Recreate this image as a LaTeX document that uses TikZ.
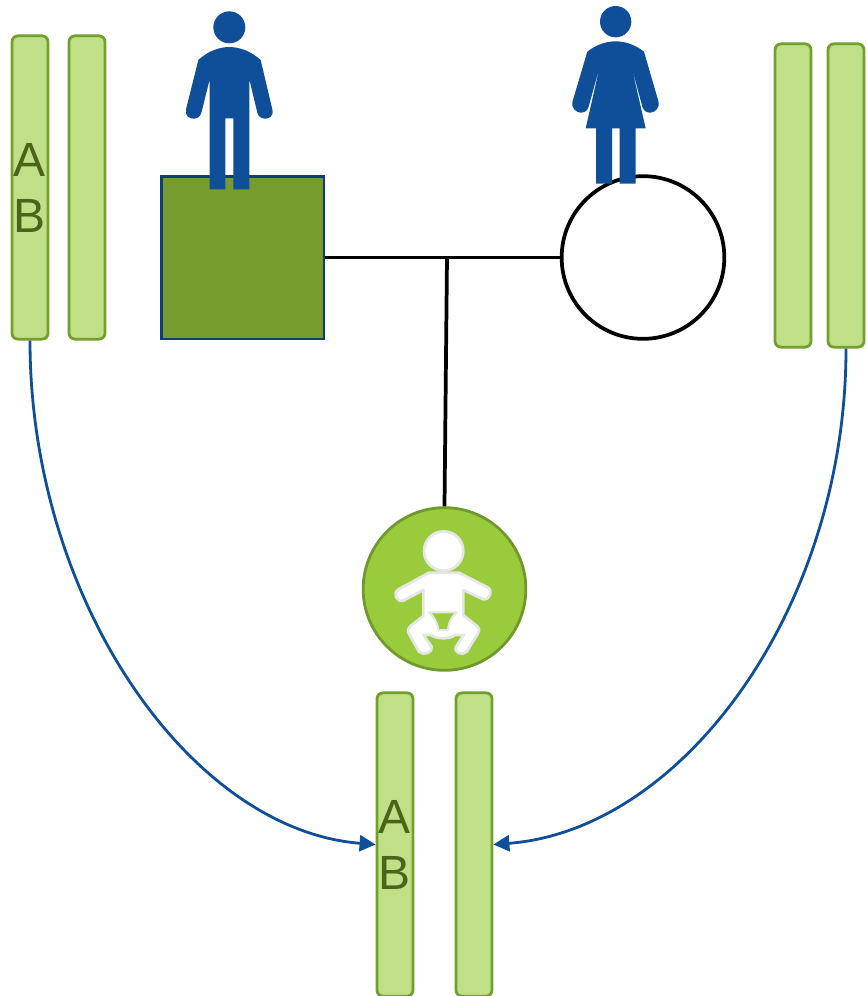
\documentclass[tikz,border=0pt]{standalone}
\usepackage{fontspec}
\setmainfont{Liberation Sans}
\usetikzlibrary{arrows.meta}
\definecolor{chromfill}{HTML}{C1DF86}
\definecolor{chromline}{HTML}{71A02C}
\definecolor{chromtext}{HTML}{4A6419}
\definecolor{sqfill}{HTML}{759C2C}
\definecolor{navy}{HTML}{0F3D75}
\definecolor{blueman}{HTML}{0F4F99}
\definecolor{babyfill}{HTML}{9ACB3C}
\definecolor{babyline}{HTML}{6F9A2B}
\definecolor{babyedge}{HTML}{E6E6E6}
\tikzset{
  chrom/.style={draw=chromline,fill=chromfill,line width=2.1pt,rounded corners=4.5pt,minimum width=27pt,minimum height=227.5pt,inner sep=0pt,text=chromtext,font=\fontsize{36}{42}\selectfont,align=center},
  link/.style={draw=black,line width=2.8pt},
  curve/.style={draw=blueman,line width=2.1pt,-{Triangle[length=12pt,width=12pt]}},
  person/.style={fill=blueman,draw=none}
}
\begin{document}
\begin{tikzpicture}[x=0.75pt,y=-0.75pt]
\useasboundingbox (0,0) rectangle (867,996);
\node[chrom] (c1) at (30,187.5) {A\\B};
\node[chrom] (c2) at (87,187.5) {};
\node[chrom] (c3) at (793,195.5) {};
\node[chrom] (c4) at (846,195.5) {};
\node[chrom] (c5) at (395,844.5) {A\\B};
\node[chrom] (c6) at (474,844.5) {};
\node[draw=navy,fill=sqfill,line width=2pt,minimum size=122pt,inner sep=0pt] (father) at (242.5,257.5) {};
\node[draw=black,fill=white,line width=2.8pt,circle,minimum size=122pt,inner sep=0pt] (mother) at (643,257.5) {};
\node[draw=babyline,fill=babyfill,line width=2.1pt,circle,minimum size=122pt,inner sep=0pt] (child) at (444.5,589) {};
\coordinate (junction) at (447,257.5);
\draw[link] (father.east) -- (mother.west);
\draw[link] (junction) -- (child.north);
\draw[curve] (c1.south) .. controls (30,600) and (190,830) .. (c5.west);
\draw[curve] (c4.south) .. controls (846,608) and (683,830) .. (c6.east);
% man
\begin{scope}[shift={(170,0)},x=0.25pt,y=-0.25pt]
\fill[person] (178,82) circle[radius=48];
\fill[person] (85,180) .. controls (115,152) and (150,141) .. (178,141) .. controls (206,141) and (241,152) .. (272,180)
 -- (307,328) .. controls (312,350) and (296,356) .. (285,356) .. controls (274,356) and (265,350) .. (262,338)
 -- (238,238) -- (238,568) -- (190,568) -- (190,355) -- (166,355) -- (166,568) -- (119,568) -- (119,238)
 -- (95,335) .. controls (92,350) and (82,356) .. (71,356) .. controls (58,356) and (44,348) .. (48,328) -- cycle;
\end{scope}
% woman
\begin{scope}[shift={(555,0)},x=0.25pt,y=-0.25pt]
\fill[person] (182,65) circle[radius=47];
\fill[person] (97,155) .. controls (125,133) and (155,124) .. (182,124) .. controls (209,124) and (239,133) .. (267,155)
 -- (310,303) .. controls (316,325) and (298,338) .. (286,338) .. controls (275,338) and (266,333) .. (262,320)
 -- (229,197) -- (272,385) -- (242,385) -- (242,551) -- (194,551) -- (194,385) -- (171,385) -- (171,551) -- (123,551) -- (123,385) -- (92,385)
 -- (135,197) -- (101,320) .. controls (97,333) and (88,338) .. (77,338) .. controls (65,338) and (47,325) .. (53,303) -- cycle;
\end{scope}
% baby
\begin{scope}[shift={(355,500)},x=0.25pt,y=-0.25pt]
\filldraw[draw=babyedge,fill=white,line width=2pt] (266,153) circle[radius=59];
\filldraw[draw=babyedge,fill=white,line width=2pt,line join=round] (222,218) -- (312,218) -- (398,262)
 .. controls (415,272) and (405,300) .. (385,298) -- (325,270) -- (325,345) -- (368,380)
 .. controls (375,388) and (372,395) .. (368,402) -- (335,455) .. controls (322,468) and (295,458) .. (303,440) -- (326,405)
 -- (300,405) .. controls (285,418) and (245,418) .. (228,405) -- (205,405) -- (230,440)
 .. controls (235,458) and (205,468) .. (192,455) -- (162,402) .. controls (156,392) and (160,384) .. (166,378) -- (205,348)
 -- (205,270) -- (145,302) .. controls (125,308) and (112,280) .. (130,268) -- cycle;
\filldraw[draw=babyedge,fill=babyfill,line width=1.5pt,line join=round] (222,337) -- (305,337) .. controls (285,355) and (280,375) .. (279,390) -- (250,390) .. controls (248,372) and (240,352) .. (222,337) -- cycle;
\end{scope}
\end{tikzpicture}
\end{document}
